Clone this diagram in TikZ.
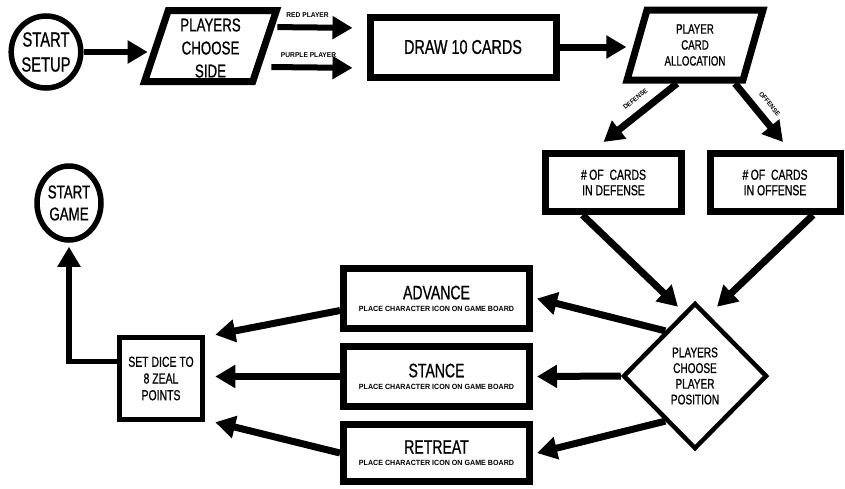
\documentclass[tikz,border=0pt]{standalone}
\usepackage{fontspec}
\setmainfont{Liberation Sans}[FakeStretch = 0.72, FakeBold = 0.8]
\newfontfamily\labelFont{Liberation Sans}[FakeStretch = 0.95]
\usetikzlibrary{shapes.geometric,arrows.meta,calc}
\tikzstyle{startStyle}=[shape = ellipse, draw, line width = 5.5pt, inner sep = 0pt, align = center]
\tikzstyle{ioStyle}=[shape = trapezium, trapezium stretches = true, draw, line width = 7pt, inner sep = 0pt, align = center]
\tikzstyle{boxStyle}=[shape = rectangle, draw, line width = 7pt, inner sep = 0pt, align = center]
\tikzstyle{arrowStyle}=[line width = 7pt, -{Triangle[length = 20pt, width = 22pt]}]

\begin{document}
\begin{tikzpicture}[x = 1pt, y = -1pt]
\tikzstyle{labelStyle}=[font = \labelFont\bfseries\fontsize{7}{8}\selectfont, inner sep = 1pt]
\useasboundingbox (0,0) rectangle (845,488);
\node[startStyle, minimum width = 62pt, minimum height = 72pt, font = \fontsize{20.5}{25}\selectfont] (setup) at (46,52) {START\\SETUP};
\node[ioStyle, trapezium left angle = 75, trapezium right angle = 105, minimum width = 132pt, minimum height = 71pt, font = \fontsize{18.5}{23}\selectfont] (side) at (210.5,46) {\rule{0pt}{17pt}PLAYERS\\CHOOSE\\SIDE};
\node[boxStyle, minimum width = 186pt, minimum height = 60pt, font = \fontsize{20}{20}\selectfont] (cards) at (463,47) {DRAW 10 CARDS};
\node[ioStyle, trapezium left angle = 73, trapezium right angle = 107, minimum width = 136pt, minimum height = 70pt, font = \fontsize{13.5}{16}\selectfont] (alloc) at (695,45) {PLAYER\\CARD\\ALLOCATION};
\node[boxStyle, minimum width = 136pt, minimum height = 58pt, font = \fontsize{14.5}{15.5}\selectfont] (def) at (613.5,182.5) {\#\,OF\ \ CARDS\\IN DEFENSE};
\node[boxStyle, minimum width = 130pt, minimum height = 58pt, font = \fontsize{14.5}{15.5}\selectfont] (off) at (775,182.5) {\#\,OF\ \ CARDS\\IN OFFENSE};
\node[shape = diamond, draw, line width = 4.5pt, inner sep = 0pt, minimum width = 144pt, minimum height = 146pt, align = center, font = \fontsize{14}{15.7}\selectfont] (pos) at (695,376) {PLAYERS\\CHOOSE\\PLAYER\\POSITION};
\node[boxStyle, minimum width = 186pt, minimum height = 60pt] (adv) at (436.5,298.5) {\fontsize{19.5}{15}\selectfont ADVANCE\\\labelFont\bfseries\fontsize{7.5}{15}\selectfont PLACE CHARACTER ICON ON GAME BOARD};
\node[boxStyle, minimum width = 186pt, minimum height = 60pt] (stance) at (436.5,376.5) {\fontsize{19.5}{15}\selectfont STANCE\\\labelFont\bfseries\fontsize{7.5}{15}\selectfont PLACE CHARACTER ICON ON GAME BOARD};
\node[boxStyle, minimum width = 186pt, minimum height = 57pt] (ret) at (436.5,453) {\fontsize{19.5}{15}\selectfont RETREAT\\\labelFont\bfseries\fontsize{7.5}{15}\selectfont PLACE CHARACTER ICON ON GAME BOARD};
\node[boxStyle, line width = 5.5pt, minimum width = 83pt, minimum height = 82pt, font = \fontsize{14.5}{16.7}\selectfont] (dice) at (161,378.5) {SET DICE TO\\8 ZEAL\\POINTS};
\node[startStyle, minimum width = 64pt, minimum height = 74pt, font = \fontsize{18.5}{22}\selectfont] (game) at (69,203) {START\\GAME};
\draw[arrowStyle, line width = 6pt, shorten >= 5pt] (setup) -- (setup -| side.west);
\draw[arrowStyle, line width = 6pt, shorten <= 9pt, shorten >= 14pt] ([yshift = 19pt]side.east) -- node[labelStyle, above = 6pt, pos = 0.4] {RED PLAYER} ([yshift = 19pt]cards.west);
\draw[arrowStyle, line width = 6pt, shorten <= 3pt, shorten >= 14pt] ([yshift = -21pt]side.east) -- node[labelStyle, above = 6pt, pos = 0.41] {PURPLE PLAYER} ([yshift = -21pt]cards.west);
\draw[arrowStyle, shorten >= 7pt] (cards) -- (cards -| alloc.west);
\draw[arrowStyle] ([xshift = -18pt]alloc.south) -- node[labelStyle, font = \labelFont\bfseries\fontsize{6.5}{7}\selectfont, sloped, above = 7pt, pos = 0.45] {DEFENSE} ([xshift = -10pt, yshift = 8pt]def.north);
\draw[arrowStyle] ([xshift = 40pt]alloc.south) -- node[labelStyle, font = \labelFont\bfseries\fontsize{6.5}{7}\selectfont, sloped, above = 7pt, pos = 0.5] {OFFENSE} ([xshift = 8pt, yshift = 8pt]off.north);
\draw[arrowStyle] ([xshift = -31pt]def.south) -- ([xshift = -17pt, yshift = -6pt]pos.north);
\draw[arrowStyle] ([xshift = 38pt]off.south) -- ([xshift = 22pt, yshift = -6pt]pos.north);
\draw[arrowStyle] ($(pos.north)!0.4!(pos.west)$) -- ([xshift = 4pt]adv.east);
\draw[arrowStyle] (pos.west) -- ([xshift = 4pt]stance.east);
\draw[arrowStyle] ($(pos.south)!0.4!(pos.west)$) -- ([xshift = 4pt]ret.east);
\draw[arrowStyle] ([yshift = -12pt]adv.west) -- ([xshift = 10pt]dice.north east);
\draw[arrowStyle, shorten >= 10pt] (stance.west) -- (stance.west -| dice.east);
\draw[arrowStyle] (ret.west) -- ([xshift = 10pt]dice.south east);
\draw[arrowStyle, line width = 5.5pt, shorten >= 4pt] ([yshift = 17pt]dice.west) -| (game);
\end{tikzpicture}
\end{document}
